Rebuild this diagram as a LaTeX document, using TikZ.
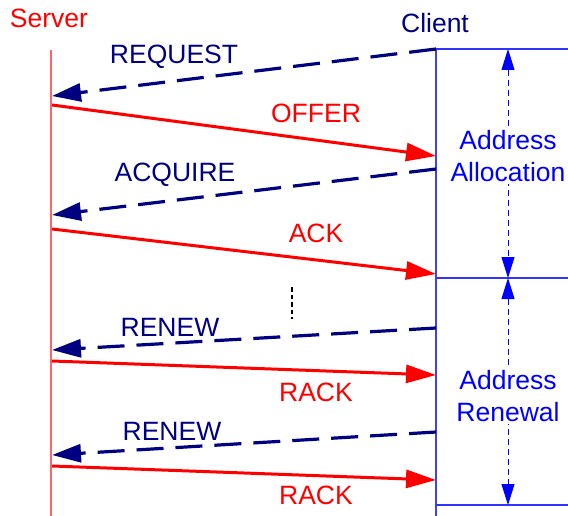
\documentclass[tikz,border=0pt]{standalone}
\usepackage{fontspec}
\setmainfont{Liberation Sans}
\usetikzlibrary{arrows.meta}
\definecolor{navy}{HTML}{000080}
\definecolor{srvline}{HTML}{FF6666}
\definecolor{cliline}{HTML}{4444CC}
\definecolor{bluish}{HTML}{0000FF}
\tikzset{
  lbl/.style={font=\fontsize{26.5}{32}\selectfont, inner sep=0pt},
  srvlbl/.style={lbl, text=red},
  clilbl/.style={lbl, text=navy},
  phaselbl/.style={lbl, text=bluish, fill=white, inner sep=2pt, align=center},
  reqmsg/.style={draw=navy, line width=3.2pt, dash pattern=on 27pt off 12pt,
    -{Triangle[length=29pt,width=18pt]}},
  repmsg/.style={draw=red, line width=3pt, -{Triangle[length=30pt,width=18pt]}},
  phasearrow/.style={draw=bluish, line width=1pt, dash pattern=on 6pt off 4pt,
    {Triangle[length=21pt,width=13pt]}-{Triangle[length=21pt,width=13pt]}},
  rule/.style={draw=bluish!80!white, line width=1.3pt},
}
\begin{document}
\begin{tikzpicture}[x=1pt,y=-1pt]
\useasboundingbox (0,0) rectangle (568,516);

% lifelines
\coordinate (stop) at (51,50);
\coordinate (sbot) at (51,516);
\coordinate (ctop) at (436,48);
\coordinate (cbot) at (436,516);
\draw[srvline, line width=2pt] (stop) -- (sbot);
\draw[cliline, line width=2pt] (ctop) -- (cbot);

\node[srvlbl] (server) at (49,18) {Server};
\node[clilbl] (client) at (435,23) {Client};

% phase boundaries
\coordinate (b1l) at (436,49);  \coordinate (b1r) at (568,49);
\coordinate (b2l) at (436,278); \coordinate (b2r) at (568,278);
\coordinate (b3l) at (436,505); \coordinate (b3r) at (568,505);
\draw[rule] (b1l) -- (b1r);
\draw[rule] (b2l) -- (b2r);
\draw[rule] (b3l) -- (b3r);

% phase spans
\coordinate (p1t) at (508,49);  \coordinate (p1b) at (508,278);
\coordinate (p2t) at (508,278); \coordinate (p2b) at (508,505);
\draw[phasearrow] (p1t) -- (p1b);
\draw[phasearrow] (p2t) -- (p2b);
\node[phaselbl] (alloc) at (508,156) {Address\\Allocation};
\node[phaselbl] (renew) at (508,396) {Address\\Renewal};

% message endpoints
\coordinate (c1) at (436,49);  \coordinate (s1) at (52,96);
\coordinate (s2) at (52,105);  \coordinate (c2) at (436,156);
\coordinate (c3) at (436,169); \coordinate (s3) at (52,215);
\coordinate (s4) at (52,229);  \coordinate (c4) at (436,274);
\coordinate (c5) at (436,328); \coordinate (s5) at (52,350);
\coordinate (s6) at (52,361);  \coordinate (c6) at (436,375);
\coordinate (c7) at (436,432); \coordinate (s7) at (52,455);
\coordinate (s8) at (52,466);  \coordinate (c8) at (436,480);

% address allocation
\draw[reqmsg] (c1) -- (s1);
\node[clilbl] (request) at (174,57) {REQUEST};
\draw[repmsg] (s2) -- (c2);
\node[srvlbl] (offer) at (316,113) {OFFER};
\draw[reqmsg] (c3) -- (s3);
\node[clilbl] (acquire) at (175,175) {ACQUIRE};
\draw[repmsg] (s4) -- (c4);
\node[srvlbl] (ack) at (316,233) {ACK};

% elapsed time
\coordinate (gapt) at (292,287);
\coordinate (gapb) at (292,319);
\draw[black, line width=2.8pt, dash pattern=on 4.5pt off 3pt] (gapt) -- (gapb);

% address renewal
\draw[reqmsg] (c5) -- (s5);
\node[clilbl] (renew1) at (170,327) {RENEW};
\draw[repmsg] (s6) -- (c6);
\node[srvlbl] (rack1) at (316,392) {RACK};
\draw[reqmsg] (c7) -- (s7);
\node[clilbl] (renew2) at (172,431) {RENEW};
\draw[repmsg] (s8) -- (c8);
\node[srvlbl] (rack2) at (316,495) {RACK};
\end{tikzpicture}
\end{document}
